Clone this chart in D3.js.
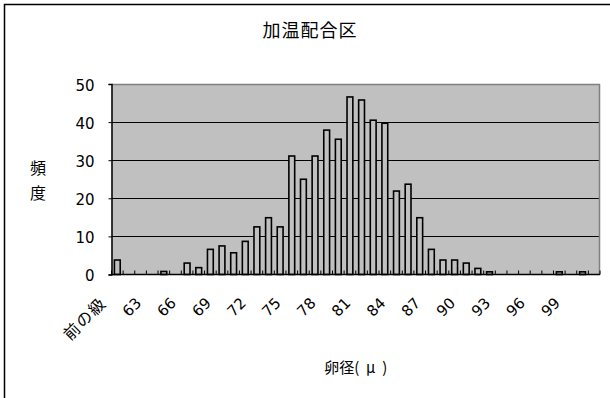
<!DOCTYPE html>
<html><head><meta charset="utf-8">
<script src="https://cdn.jsdelivr.net/npm/d3@7"></script>
<style>
html,body{margin:0;padding:0;background:#fff;}
svg{display:block;}
</style></head>
<body>
<svg id="chart" width="610" height="398"></svg>
<script>
const title = "加温配合区";
const xTitle = "卵径(  μ  )";
const yTitle = ["頻", "度"];
const categories = ["前の級","61","62","63","64","65","66","67","68","69","70","71","72","73","74","75","76","77","78","79","80","81","82","83","84","85","86","87","88","89","90","91","92","93","94","95","96","97","98","99","100","101"];
const frequency = [3.8,0,0,0,0.8,0,3,1.8,6.6,7.5,5.7,8.7,12.5,14.9,12.5,31.1,25,31.1,37.9,35.5,46.6,45.8,40.5,39.7,21.9,23.7,14.9,6.6,3.8,3.8,3,1.6,0.7,0,0,0,0,0,0.7,0,0.7,0];
const shownLabels = ["前の級","63","66","69","72","75","78","81","84","87","90","93","96","99"];
const yTicks = [0,10,20,30,40,50];

const svg = d3.select("#chart");
const L = 111.5, R = 600, T = 84, B = 274.5;
const numFont = "'DejaVu Sans', 'Liberation Sans', sans-serif";
const cjkFont = "'Noto Sans CJK JP', sans-serif";

// chart border
svg.append("rect").attr("x",4.5).attr("y",4.5).attr("width",620).attr("height",420)
  .attr("fill","#fff").attr("stroke","#000").attr("stroke-width",1.5);

const x = d3.scaleBand().domain(categories).range([L,R]).paddingInner(0.5).paddingOuter(0.25);
const xCat = d3.scaleBand().domain(categories).range([L,R]).padding(0);
const y = d3.scaleLinear().domain([0,50]).range([B,T]);

// plot area
svg.append("rect").attr("x",L).attr("y",T).attr("width",R-L).attr("height",B-T).attr("fill","#c0c0c0");
// gridlines
svg.append("g").selectAll("line").data(yTicks.filter(v=>v>0 && v<50)).join("line")
  .attr("x1",L).attr("x2",R).attr("y1",d=>Math.round(y(d))+0.5).attr("y2",d=>Math.round(y(d))+0.5)
  .attr("stroke","#000").attr("stroke-width",1);
// top & right border
svg.append("path").attr("d",`M${L},${T+0.5}H${R-0.5}V${B}`).attr("fill","none").attr("stroke","#808080").attr("stroke-width",1.5);

// bars
svg.append("g").selectAll("rect").data(categories.map((c,i)=>({c,v:frequency[i]})).filter(d=>d.v>0)).join("rect")
  .attr("x",d=>x(d.c)).attr("width",x.bandwidth())
  .attr("y",d=>y(d.v)).attr("height",d=>B-y(d.v))
  .attr("fill","#c0c0c0").attr("stroke","#000").attr("stroke-width",1.6);

// x axis line and ticks (inside)
svg.append("line").attr("x1",L).attr("x2",R).attr("y1",B).attr("y2",B).attr("stroke","#000").attr("stroke-width",1.5);
const bounds = categories.map(c=>xCat(c)).concat([R]);
svg.append("g").selectAll("line").data(bounds).join("line")
  .attr("x1",d=>d).attr("x2",d=>d).attr("y1",B).attr("y2",B-4)
  .attr("stroke","#000").attr("stroke-width",1);

// y axis
const yAxis = d3.axisLeft(y).tickValues(yTicks).tickSize(3).tickPadding(14);
const ya = svg.append("g").attr("transform",`translate(${L},0)`).call(yAxis);
ya.select(".domain").attr("stroke","#000").attr("stroke-width",1.5);
ya.selectAll(".tick text").attr("font-family",numFont).attr("font-size",15).attr("fill","#000").attr("dy","0.68em").attr("y",-4);

// x labels
svg.append("g").selectAll("text").data(shownLabels).join("text")
  .attr("transform",d=>`translate(${xCat(d)+xCat.bandwidth()/2-10},304) rotate(-45)`)
  .attr("text-anchor","end")
  .attr("font-family",d=>/\d/.test(d)?numFont:cjkFont)
  .attr("font-size",d=>/\d/.test(d)?15:16)
  .attr("letter-spacing",d=>/\d/.test(d)?0:1.5)
  .attr("fill","#000")
  .text(d=>d);

// titles
svg.append("text").attr("x",310).attr("y",37).attr("text-anchor","middle")
  .attr("font-family",cjkFont).attr("font-size",18).attr("letter-spacing",1).text(title);
svg.append("text").attr("x",(L+R)/2).attr("y",373).attr("text-anchor","middle")
  .attr("font-family",cjkFont).attr("font-size",15).style("white-space","pre").text(xTitle);
svg.append("g").selectAll("text").data(yTitle).join("text")
  .attr("x",38).attr("y",(d,i)=>174+i*25).attr("text-anchor","middle")
  .attr("font-family",cjkFont).attr("font-size",16).text(d=>d);
</script>
</body></html>
